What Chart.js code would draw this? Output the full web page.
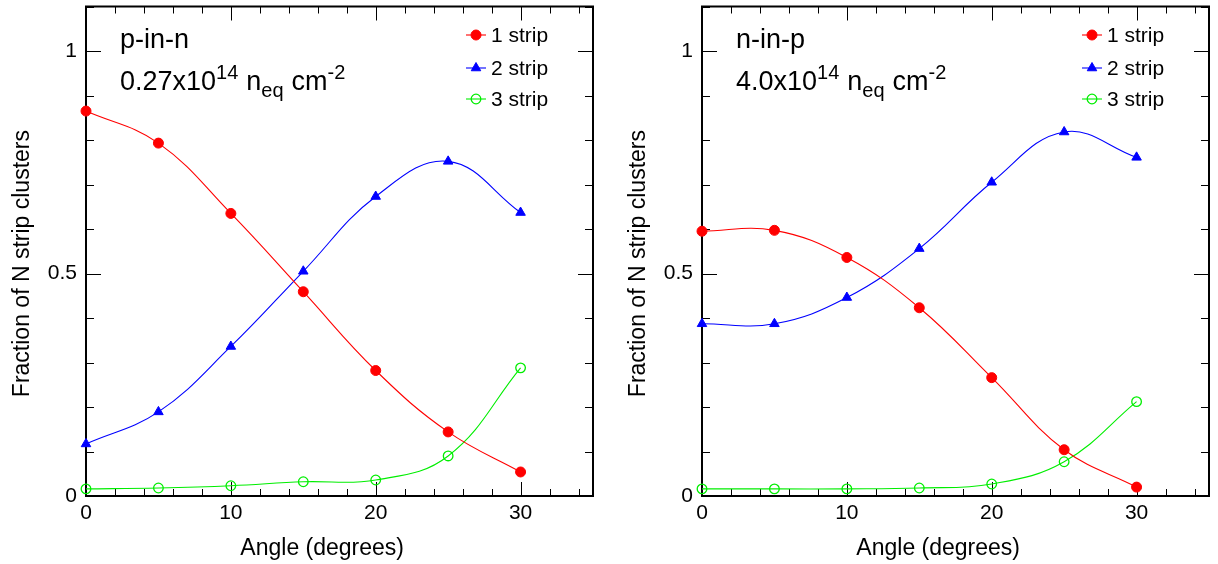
<!DOCTYPE html>
<html>
<head>
<meta charset="UTF-8">
<title>Strip cluster fractions vs angle</title>
<script src="https://cdn.jsdelivr.net/npm/chart.js"></script>
<style>
  body { margin: 0; background: #fff; }
  .wrap { display: flex; width: 1218px; height: 564px; }
  canvas { display: block; }
</style>
</head>
<body>
<div class="wrap">
  <canvas id="pinn" width="609" height="564"></canvas>
  <canvas id="ninp" width="609" height="564"></canvas>
</div>
<script>
// angles (degrees) and the fraction of 1/2/3-strip clusters
const angles = [0, 5, 10, 15, 20, 25, 30];

const pinnOne   = [0.865, 0.793, 0.635, 0.459, 0.282, 0.144, 0.054];
const pinnTwo   = [0.117, 0.189, 0.336, 0.505, 0.673, 0.752, 0.637];
const pinnThree = [0.016, 0.018, 0.023, 0.032, 0.036, 0.090, 0.288];

const ninpOne   = [0.595, 0.597, 0.536, 0.423, 0.266, 0.104, 0.020];
const ninpTwo   = [0.387, 0.387, 0.446, 0.556, 0.705, 0.818, 0.761];
const ninpThree = [0.016, 0.016, 0.016, 0.018, 0.027, 0.077, 0.212];

const seriesNames = ['1 strip', '2 strip', '3 strip'];
const xLabels = [0, 10, 20, 30];
const yLabels = ['0', '0.5', '1'];

const FONT = '"Liberation Sans", Arial, Helvetica, sans-serif';

function pts(vals) {
  return angles.map((a, i) => ({ x: a, y: vals[i] }));
}

function makeDatasets(one, two, three) {
  return [
    { label: seriesNames[0], data: pts(one), borderColor: '#ff0000', backgroundColor: '#ff0000',
      pointStyle: 'circle', pointRadius: 5, pointBorderWidth: 1 },
    { label: seriesNames[1], data: pts(two), borderColor: '#0000ff', backgroundColor: '#0000ff',
      pointStyle: 'triangle', pointRadius: 5.5, pointBorderWidth: 1 },
    { label: seriesNames[2], data: pts(three), borderColor: '#00ee00', backgroundColor: 'rgba(0,0,0,0)',
      pointStyle: 'circle', pointRadius: 4.8, pointBorderWidth: 1.3 }
  ].map(d => Object.assign(d, { borderWidth: 1.1, tension: 0.4, clip: false, fill: false }));
}

// inner tick marks on all four sides plus the box
const framePlugin = {
  id: 'frame',
  beforeDatasetsDraw(chart) {
    const { ctx, chartArea: a, scales: { x, y } } = chart;
    ctx.save();
    ctx.strokeStyle = '#000';
    ctx.lineWidth = 1;
    ctx.beginPath();
    for (let v = 0; v <= 34; v += 2) {
      const px = Math.round(x.getPixelForValue(v)) + 0.5;
      const len = v % 10 === 0 ? 14 : 7;
      ctx.moveTo(px, a.bottom); ctx.lineTo(px, a.bottom - len);
      ctx.moveTo(px, a.top); ctx.lineTo(px, a.top + len);
    }
    for (let t = 0; t <= 11; t++) {
      const py = Math.round(y.getPixelForValue(t / 10)) + 0.5;
      const len = t % 5 === 0 ? 15 : 8;
      ctx.moveTo(a.left, py); ctx.lineTo(a.left + len, py);
      ctx.moveTo(a.right, py); ctx.lineTo(a.right - len, py);
    }
    ctx.stroke();
    ctx.lineWidth = 2;
    ctx.strokeRect(a.left, a.top, a.right - a.left, a.bottom - a.top);
    ctx.restore();
  }
};

// text runs with super/subscripts
function drawRich(ctx, x, y, parts) {
  let cx = x;
  parts.forEach(p => {
    ctx.font = p.size + 'px ' + FONT;
    ctx.fillText(p.t, cx, y + (p.dy || 0));
    cx += ctx.measureText(p.t).width + (p.gap || 0);
  });
}

function drawMarker(ctx, ds, cx, cy) {
  const r = ds.pointRadius;
  ctx.beginPath();
  if (ds.pointStyle === 'triangle') {
    const s = r * 3 / Math.sqrt(3);
    const h = s * Math.sqrt(3) / 2;
    ctx.moveTo(cx, cy - 2 * h / 3);
    ctx.lineTo(cx + s / 2, cy + h / 3);
    ctx.lineTo(cx - s / 2, cy + h / 3);
    ctx.closePath();
  } else {
    ctx.arc(cx, cy, r, 0, Math.PI * 2);
  }
  ctx.fillStyle = ds.backgroundColor;
  ctx.fill();
  ctx.lineWidth = ds.pointBorderWidth;
  ctx.strokeStyle = ds.borderColor;
  ctx.stroke();
}

const decorPlugin = {
  id: 'decor',
  afterDraw(chart, args, opts) {
    const { ctx, chartArea: a } = chart;
    ctx.save();
    ctx.fillStyle = '#000';
    ctx.textBaseline = 'alphabetic';
    ctx.textAlign = 'left';

    // sensor type and fluence
    drawRich(ctx, a.left + 34, 48, [{ t: opts.sensor, size: 27 }]);
    drawRich(ctx, a.left + 34, 90, [
      { t: opts.fluence, size: 27 },
      { t: '14', size: 20, dy: -11, gap: 8 },
      { t: 'n', size: 27 },
      { t: 'eq', size: 20, dy: 7, gap: 8 },
      { t: 'cm', size: 27 },
      { t: '-2', size: 20, dy: -11 }
    ]);

    // legend
    const rows = [35, 68, 99];
    chart.data.datasets.forEach((ds, i) => {
      const mx = a.right - 117, my = rows[i];
      ctx.strokeStyle = ds.borderColor;
      ctx.lineWidth = 1.1;
      ctx.beginPath();
      ctx.moveTo(mx - 10, my); ctx.lineTo(mx + 10, my);
      ctx.stroke();
      drawMarker(ctx, ds, mx, my);
      ctx.fillStyle = '#000';
      ctx.font = '21px ' + FONT;
      ctx.textBaseline = 'middle';
      ctx.fillText(ds.label, a.right - 102, my + 1);
    });

    // axis titles
    ctx.textBaseline = 'alphabetic';
    ctx.font = '23px ' + FONT;
    ctx.textAlign = 'right';
    ctx.fillText('Angle (degrees)', a.right - 189, 555);
    ctx.translate(a.left - 57, 130);
    ctx.rotate(-Math.PI / 2);
    ctx.fillText('Fraction of N strip clusters', 0, 0);
    ctx.restore();
  }
};

function makeChart(id, datasets, sensor, fluence, axisWidth, rightPad) {
  return new Chart(document.getElementById(id), {
    type: 'line',
    data: { datasets },
    plugins: [framePlugin, decorPlugin],
    options: {
      responsive: false,
      animation: false,
      layout: { padding: { top: 6, right: rightPad, left: 0, bottom: 0 } },
      plugins: {
        legend: { display: false },
        tooltip: { enabled: false },
        decor: { sensor, fluence }
      },
      scales: {
        x: {
          type: 'linear', min: 0, max: 35,
          grid: { display: false, drawTicks: false },
          border: { display: false },
          afterFit: s => { s.height = 68; s.paddingLeft = 0; s.paddingRight = 0; },
          ticks: {
            stepSize: 1, padding: 5, maxRotation: 0, autoSkip: false,
            color: '#000', font: { family: FONT, size: 21 },
            callback: v => xLabels.includes(v) ? String(v) : ''
          }
        },
        y: {
          min: 0, max: 1.1,
          grid: { display: false, drawTicks: false },
          border: { display: false },
          afterFit: s => { s.width = axisWidth; s.paddingTop = 0; s.paddingBottom = 0; },
          ticks: {
            stepSize: 0.1, padding: 9, autoSkip: false,
            color: '#000', font: { family: FONT, size: 21 },
            callback: v => {
              const t = Math.round(v * 10);
              return t % 5 === 0 ? yLabels[t / 5] : '';
            }
          }
        }
      }
    }
  });
}

makeChart('pinn', makeDatasets(pinnOne, pinnTwo, pinnThree), 'p-in-n', '0.27x10', 86, 16);
makeChart('ninp', makeDatasets(ninpOne, ninpTwo, ninpThree), 'n-in-p', '4.0x10', 93, 9);
</script>
</body>
</html>
